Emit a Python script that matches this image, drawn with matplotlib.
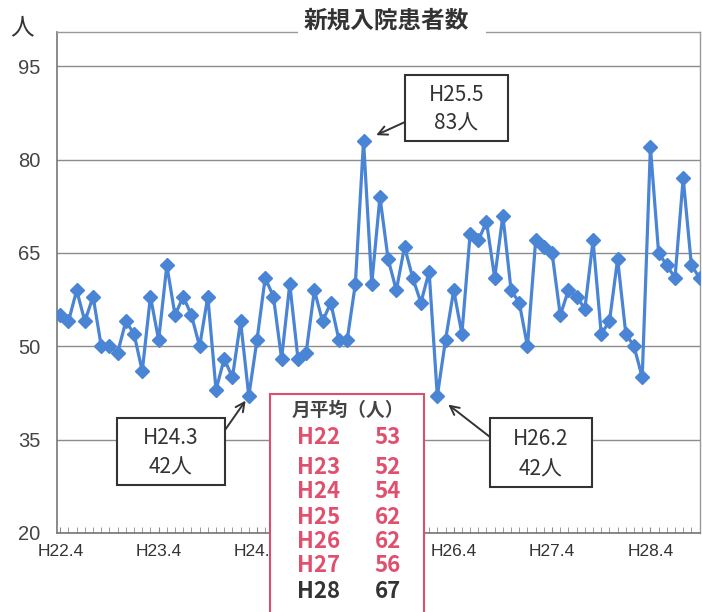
import matplotlib.pyplot as plt
from matplotlib.patches import Rectangle
from matplotlib.ticker import MultipleLocator

plt.rcParams['font.family'] = ['Noto Sans CJK JP', 'DejaVu Sans']

# monthly new inpatients, H22.4 .. H28.10
patients = [55, 54, 59, 54, 58, 50, 50, 49, 54, 52, 46, 58,
            51, 63, 55, 58, 55, 50, 58, 43, 48, 45, 54, 42,
            51, 61, 58, 48, 60, 48, 49, 59, 54, 57, 51, 51,
            60, 83, 60, 74, 64, 59, 66, 61, 57, 62, 42, 51,
            59, 52, 68, 67, 70, 61, 71, 59, 57, 50, 67, 66,
            65, 55, 59, 58, 56, 67, 52, 54, 64, 52, 50, 45,
            82, 65, 63, 61, 77, 63, 61]
tick_labels = ["H22.4", "H23.4", "H24.4", "H25.4", "H26.4", "H27.4", "H28.4"]
y_ticks = [20, 35, 50, 65, 80, 95]

years = ["H22", "H23", "H24", "H25", "H26", "H27", "H28"]
year_avg = [53, 52, 54, 62, 62, 56, 67]

# callouts: month index, label
callouts = [(23, "H24.3"), (37, "H25.5"), (46, "H26.2")]

W, H = 702, 612


def fx(x):
    return x / W


def fy(y):
    return 1 - y / H


fig = plt.figure(figsize=(W / 100, H / 100), dpi=100)
ax = fig.add_axes([fx(57), fy(533), (700 - 57) / W, (533 - 32) / H])

months = list(range(len(patients)))
ax.plot(months, patients, color='#4a84d4', lw=2.3, marker='D', ms=7.5,
        zorder=3)

ax.set_xlim(-0.4, 78.05)
ax.set_ylim(20, 100.5)
ax.set_yticks(y_ticks)
ax.yaxis.grid(True, color='#8c8c8c', lw=1)
ax.set_axisbelow(True)
ax.set_xticks(months[::12], tick_labels)
ax.xaxis.set_minor_locator(MultipleLocator(1))
ax.tick_params(axis='x', which='both', direction='in', length=4,
               color='#888888', labelsize=12.5, labelcolor='#333333', pad=8)
ax.tick_params(axis='y', length=0, labelsize=14.5, labelcolor='#444444', pad=12)
for lab in ax.get_xticklabels() + ax.get_yticklabels():
    lab.set_family(['Liberation Sans', 'DejaVu Sans'])
# H25.4 sits completely under the average table
ax.get_xticklabels()[3].set_visible(False)

for side in ['left', 'bottom']:
    ax.spines[side].set_color('#777777')
    ax.spines[side].set_linewidth(1.2)
for side in ['top', 'right']:
    ax.spines[side].set_color('#999999')
    ax.spines[side].set_linewidth(1)

# title over the top border
fig.add_artist(Rectangle((fx(298), fy(40)), 188 / W, 16 / H,
                         transform=fig.transFigure, facecolor='white',
                         edgecolor='none', zorder=4))
fig.text(fx(386), fy(21), "新規入院患者数", ha='center', va='center',
         fontsize=17, fontweight='bold', color='#333333', zorder=5)
fig.text(fx(22), fy(28), "人", ha='center', va='center', fontsize=17,
         color='#333333')

# callout boxes (box left, top, right, bottom, arrow tail x, y, shrink)
box_layout = {
    "H24.3": (117, 418, 225, 485, 225, 430, 4),
    "H25.5": (405, 75, 508, 141, 405, 122, 10),
    "H26.2": (490, 418, 592, 487, 490, 437, 10),
}
for idx, label in callouts:
    x0, y0, x1, y1, tx, ty, shr = box_layout[label]
    fig.add_artist(Rectangle((fx(x0), fy(y1)), (x1 - x0) / W, (y1 - y0) / H,
                             transform=fig.transFigure, facecolor='white',
                             edgecolor='#333333', lw=1.5, zorder=4))
    cx = (x0 + x1) / 2
    fig.text(fx(cx), fy(y0 + (y1 - y0) * 0.3), label, ha='center',
             va='center', fontsize=15, color='#333333', zorder=5)
    fig.text(fx(cx), fy(y0 + (y1 - y0) * 0.74), f"{patients[idx]}人",
             ha='center', va='center', fontsize=15, color='#333333', zorder=5)
    ax.annotate('', xy=(idx, patients[idx]), xycoords='data',
                xytext=(fx(tx), fy(ty)), textcoords='figure fraction',
                arrowprops=dict(arrowstyle='->', color='#333333', lw=1.4,
                                mutation_scale=16, shrinkA=0, shrinkB=shr),
                annotation_clip=False, zorder=5)

# yearly average table
fig.add_artist(Rectangle((fx(270), -0.05), 154 / W, fy(394) + 0.05,
                         transform=fig.transFigure, facecolor='white',
                         edgecolor='#d9506e', lw=1.5, zorder=6))
fig.text(fx(348), fy(410), "月平均（人）", ha='center', va='center',
         fontsize=13.5, fontweight='bold', color='#444444', zorder=7)
row_y = [438, 467, 492, 517, 542, 566, 591]
for i, (yr, avg) in enumerate(zip(years, year_avg)):
    c = '#333333' if i == len(years) - 1 else '#e0506e'
    fig.text(fx(297), fy(row_y[i]), yr, ha='left', va='center',
             fontsize=16, fontweight='bold', color=c, zorder=7)
    fig.text(fx(401), fy(row_y[i]), str(avg), ha='right', va='center',
             fontsize=16, fontweight='bold', color=c, zorder=7)

fig.savefig("out.png", dpi=100)
